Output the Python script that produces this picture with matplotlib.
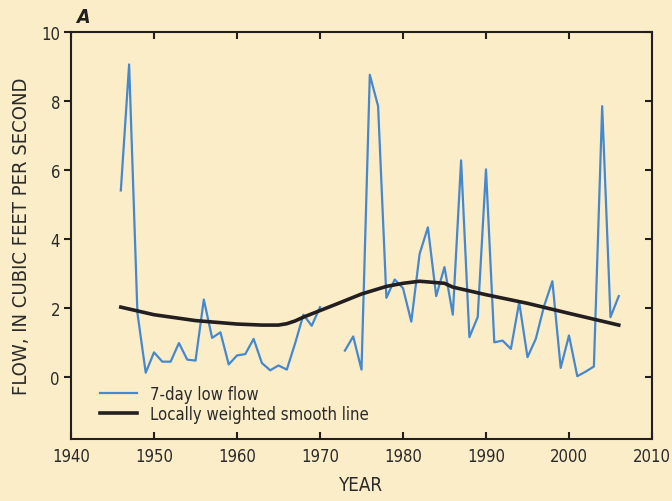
import numpy as np
import matplotlib
matplotlib.use("Agg")
import matplotlib.pyplot as plt

# 7-day low flow (gap in 1971-1972)
years_a = list(range(1946, 1971))
flow_a = [5.4, 9.05, 1.85, 0.12, 0.71, 0.44, 0.44, 0.98, 0.5, 0.47,
          2.24, 1.13, 1.29, 0.36, 0.62, 0.66, 1.1, 0.4, 0.19, 0.33,
          0.21, 0.97, 1.8, 1.48, 2.02]
years_b = list(range(1973, 2007))
flow_b = [0.76, 1.17, 0.21, 8.75, 7.84, 2.29, 2.82, 2.57, 1.6, 3.56,
          4.33, 2.34, 3.18, 1.8, 6.27, 1.15, 1.73, 6.01, 1.0, 1.05,
          0.81, 2.16, 0.57, 1.1, 2.05, 2.77, 0.26, 1.2, 0.02, 0.15,
          0.3, 7.84, 1.73, 2.34]

# Locally weighted smooth line
smooth_years = [1946, 1950, 1955, 1960, 1963, 1965, 1966, 1967, 1968, 1970,
                1972, 1975, 1978, 1980, 1982, 1985, 1986, 1990, 1995, 2000, 2006]
smooth_vals = [2.02, 1.8, 1.63, 1.53, 1.5, 1.5, 1.54, 1.62, 1.73, 1.92,
               2.11, 2.4, 2.62, 2.71, 2.77, 2.71, 2.6, 2.38, 2.13, 1.84, 1.5]

bg = "#fcedc9"
ink = "#231f20"
txt = "#2a2a2a"
blue = "#4488cf"

plt.rcParams["font.family"] = ["DejaVu Sans"]
plt.rcParams["font.stretch"] = "condensed"

fig = plt.figure(figsize=(6.72, 5.02), dpi=100, facecolor=bg)
ax = fig.add_axes([0.1057, 0.1235, 0.8645, 0.8115], facecolor=bg)

ax.plot(years_a, flow_a, color=blue, lw=1.6, label="7-day low flow")
ax.plot(years_b, flow_b, color=blue, lw=1.6)
ax.plot(smooth_years, smooth_vals, color=ink, lw=2.6,
        label="Locally weighted smooth line")

ax.set_xlim(1940, 2010)
ax.set_ylim(-1.8, 10)
ax.set_xticks(range(1940, 2011, 10))
ax.set_yticks(range(0, 11, 2))

for s in ax.spines.values():
    s.set_color(ink)
    s.set_linewidth(1.5)

ax.tick_params(axis="x", direction="in", top=True, length=5, width=1.5,
               color=ink, labelsize=12, labelcolor=txt, pad=6)
ax.tick_params(axis="y", direction="out", left=True, length=5, width=1.5,
               color=ink, labelsize=12, labelcolor=txt, pad=3)
# right ticks point inward
ax2 = ax.twinx()
ax2.set_ylim(ax.get_ylim())
ax2.set_yticks(range(0, 11, 2))
ax2.tick_params(axis="y", direction="in", length=5, width=1.5, color=ink,
                labelright=False)
for s in ax2.spines.values():
    s.set_visible(False)

ax.set_xlabel("YEAR", fontsize=13.5, color=txt, labelpad=7)
ax.set_ylabel("FLOW, IN CUBIC FEET PER SECOND", fontsize=14.5, color=txt,
              labelpad=7)

fig.text(0.124, 0.966, "A", fontsize=14, fontweight="bold", style="italic",
         color=ink, ha="center", va="center")

leg = ax.legend(loc="lower left", bbox_to_anchor=(0.03, 0.01), frameon=False,
                fontsize=12, handlelength=2.2, borderaxespad=0.3,
                labelspacing=0.15)
for t in leg.get_texts():
    t.set_color(txt)

fig.savefig("out.png", dpi=100, facecolor=bg)
